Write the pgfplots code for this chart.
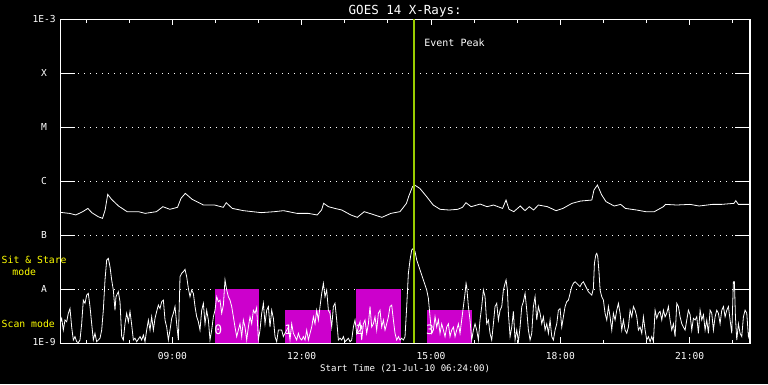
\documentclass[border=0pt]{standalone}
\usepackage{fontspec}
\setmainfont{DejaVu Sans Mono}
\usepackage{pgfplots}
\pgfplotsset{compat=1.18}
\definecolor{evgreen}{RGB}{153,204,0}
\definecolor{modemag}{RGB}{204,0,204}
\definecolor{labyel}{RGB}{255,255,0}
\begin{document}
\begin{tikzpicture}
\fill[black] (0,0) rectangle (768pt,384pt);
\useasboundingbox (0,0) rectangle (768pt,384pt);
\begin{axis}[
  at={(60.3pt,40.7pt)}, anchor=south west,
  scale only axis, width=689.7pt, height=324pt,
  xmin=6.4, xmax=22.4,
  ymode=log, ymin=1e-9, ymax=1e-3,
  axis line style={white, line width=1.2pt},
  tick align=inside,
  xtick={9,12,15,18,21},
  xticklabels={09:00,12:00,15:00,18:00,21:00},
  minor xtick={7,8,10,11,13,14,16,17,19,20,22},
  major tick length=6pt, minor tick length=3.5pt,
  xtick style={white, line width=1pt},
  ytick={1e-9,1e-8,1e-7,1e-6,1e-5,1e-4,1e-3},
  yticklabels={\raisebox{2.5pt}{1E-9},A,B,C,M,X,\raisebox{-3.5pt}{1E-3}},
  yminorticks=false,
  ytick style={draw=none},
  ymajorgrids,
  major grid style={white, line width=1pt, dash pattern=on 1pt off 5pt},
  ticklabel style={text=white, font=\fontsize{9.6}{10}\selectfont},
  xticklabel style={anchor=base, yshift=-15.7pt},
  yticklabel style={anchor=east, text width=26pt, align=center, inner sep=0pt, xshift=-3pt},
  every axis title shift=0pt,
  title={GOES 14 X-Rays:},
  title style={text=white, font=\fontsize{12.5}{13}\selectfont, at={(axis description cs:0.5,1)}, anchor=base, yshift=5pt},
  xlabel={Start Time (21-Jul-10 06:24:00)},
  xlabel style={text=white, font=\fontsize{9.1}{10}\selectfont, at={(axis description cs:0.5,0)}, anchor=base, yshift=-28.4pt},
]
% observing mode rectangles
\addplot[fill=modemag, draw=none] coordinates {(9.989,1e-9) (9.989,1e-8) (11.017,1e-8) (11.017,1e-9)} --cycle;
\addplot[fill=modemag, draw=none] coordinates {(11.614,1e-9) (11.614,4.15e-9) (12.674,4.15e-9) (12.674,1e-9)} --cycle;
\addplot[fill=modemag, draw=none] coordinates {(13.261,1e-9) (13.261,1e-8) (14.305,1e-8) (14.305,1e-9)} --cycle;
\addplot[fill=modemag, draw=none] coordinates {(14.909,1e-9) (14.909,4.15e-9) (15.945,4.15e-9) (15.945,1e-9)} --cycle;
% long channel
\addplot[white, line width=0.8pt, sharp plot] coordinates {
(6.40,2.66e-7) (6.61,2.55e-7) (6.76,2.38e-7) (6.92,2.74e-7) (7.04,3.15e-7) (7.13,2.63e-7) (7.28,2.21e-7) (7.38,2.06e-7) (7.44,2.94e-7) (7.50,5.73e-7) (7.59,4.63e-7) (7.75,3.49e-7) (7.95,2.74e-7) (8.21,2.74e-7) (8.37,2.55e-7) (8.63,2.74e-7) (8.78,3.39e-7) (8.94,3.03e-7) (9.12,3.30e-7) (9.20,4.83e-7) (9.30,5.98e-7) (9.46,4.63e-7) (9.72,3.64e-7) (9.98,3.64e-7) (10.18,3.30e-7) (10.25,4.02e-7) (10.39,3.15e-7) (10.65,2.86e-7) (11.06,2.63e-7) (11.37,2.74e-7) (11.58,2.86e-7) (11.89,2.55e-7) (12.15,2.55e-7) (12.36,2.38e-7) (12.46,2.94e-7) (12.51,3.91e-7) (12.62,3.39e-7) (12.77,3.15e-7) (12.93,2.94e-7) (13.14,2.38e-7) (13.29,2.15e-7) (13.45,2.74e-7) (13.65,2.44e-7) (13.86,2.15e-7) (14.07,2.55e-7) (14.28,2.74e-7) (14.36,3.30e-7) (14.43,3.91e-7) (14.48,5.19e-7) (14.57,7.94e-7) (14.62,8.53e-7) (14.74,7.40e-7) (14.90,5.19e-7) (15.05,3.64e-7) (15.21,3.03e-7) (15.42,2.94e-7) (15.62,3.03e-7) (15.73,3.30e-7) (15.81,4.02e-7) (15.93,3.39e-7) (16.14,3.79e-7) (16.30,3.39e-7) (16.45,3.64e-7) (16.66,3.15e-7) (16.74,4.50e-7) (16.81,3.03e-7) (16.92,2.74e-7) (17.07,3.49e-7) (17.18,2.86e-7) (17.28,3.39e-7) (17.38,2.94e-7) (17.49,3.64e-7) (17.70,3.39e-7) (17.90,2.86e-7) (18.06,3.15e-7) (18.27,3.91e-7) (18.47,4.31e-7) (18.73,4.50e-7) (18.78,6.90e-7) (18.86,8.53e-7) (18.96,5.57e-7) (19.06,4.20e-7) (19.25,3.49e-7) (19.40,3.74e-7) (19.51,3.15e-7) (19.77,2.94e-7) (19.98,2.74e-7) (20.18,2.74e-7) (20.39,3.39e-7) (20.44,3.74e-7) (20.70,3.64e-7) (21.01,3.74e-7) (21.22,3.49e-7) (21.53,3.74e-7) (21.74,3.74e-7) (22.03,3.91e-7) (22.07,4.38e-7) (22.13,3.74e-7) (22.40,3.74e-7)
};
% short channel
\addplot[white, line width=0.8pt, sharp plot] coordinates {
(6.393,2.3e-9) (6.432,2.9e-9) (6.470,1.76e-9) (6.509,2.7e-9) (6.548,2.5e-9) (6.586,3.6e-9) (6.625,4.4e-9) (6.664,2.0e-9) (6.702,1.15e-9) (6.741,1.33e-9) (6.780,1.07e-9) (6.818,1.03e-9) (6.857,1.15e-9) (6.896,2.3e-9) (6.934,6.3e-9) (6.973,5.5e-9) (7.012,7.8e-9) (7.050,8.4e-9) (7.089,4.8e-9) (7.128,2.3e-9) (7.166,1.15e-9) (7.205,1.53e-9) (7.244,1.07e-9) (7.321,1.24e-9) (7.360,1.76e-9) (7.398,4.1e-9) (7.437,1.49e-8) (7.476,3.48e-8) (7.514,3.74e-8) (7.553,2.62e-8) (7.592,1.49e-8) (7.630,9.7e-9) (7.669,4.1e-9) (7.692,7.3e-9) (7.746,9.0e-9) (7.785,5.9e-9) (7.824,1.33e-9) (7.862,1.15e-9) (7.901,2.3e-9) (7.940,3.6e-9) (7.979,2.5e-9) (8.017,3.9e-9) (8.056,2.2e-9) (8.095,1.15e-9) (8.133,1.24e-9) (8.172,1.07e-9) (8.249,1.33e-9) (8.288,1.15e-9) (8.327,1.42e-9) (8.365,1.07e-9) (8.404,1.76e-9) (8.443,2.7e-9) (8.481,1.76e-9) (8.520,3.1e-9) (8.559,1.76e-9) (8.597,2.9e-9) (8.636,3.9e-9) (8.675,5.1e-9) (8.713,4.4e-9) (8.752,5.9e-9) (8.791,6.3e-9) (8.829,2.7e-9) (8.868,2.0e-9) (8.907,1.15e-9) (8.945,1.76e-9) (8.984,2.9e-9) (9.023,3.6e-9) (9.061,4.8e-9) (9.100,2.3e-9) (9.139,1.15e-9) (9.177,1.71e-8) (9.216,1.98e-8) (9.255,2.12e-8) (9.293,2.34e-8) (9.332,1.71e-8) (9.371,1.04e-8) (9.409,7.3e-9) (9.448,9.7e-9) (9.487,8.4e-9) (9.525,4.8e-9) (9.564,3.1e-9) (9.603,2.5e-9) (9.641,1.76e-9) (9.680,4.1e-9) (9.719,5.5e-9) (9.757,2.3e-9) (9.796,4.1e-9) (9.835,2.7e-9) (9.873,1.15e-9) (9.912,1.76e-9) (9.951,3.1e-9) (9.989,4.1e-9) (10.028,7.3e-9) (10.067,5.9e-9) (10.105,6.3e-9) (10.144,3.6e-9) (10.183,5.1e-9) (10.221,1.49e-8) (10.260,9.7e-9) (10.299,7.3e-9) (10.337,6.3e-9) (10.376,4.8e-9) (10.415,3.1e-9) (10.453,2.0e-9) (10.492,1.33e-9) (10.531,1.76e-9) (10.569,2.3e-9) (10.608,1.33e-9) (10.647,2.7e-9) (10.685,2.0e-9) (10.724,1.15e-9) (10.763,2.0e-9) (10.801,3.1e-9) (10.840,2.3e-9) (10.879,4.1e-9) (10.917,3.6e-9) (10.956,4.6e-9) (10.995,1.15e-9) (11.033,1.76e-9) (11.072,3.6e-9) (11.111,5.5e-9) (11.149,2.3e-9) (11.188,4.1e-9) (11.227,4.8e-9) (11.265,2.0e-9) (11.304,4.1e-9) (11.343,2.9e-9) (11.381,1.33e-9) (11.420,1.07e-9) (11.459,1.76e-9)
(11.536,1.76e-9) (11.574,1.33e-9) (11.652,1.76e-9) (11.691,2.0e-9) (11.729,1.15e-9) (11.768,2.3e-9) (11.807,1.53e-9) (11.845,1.33e-9) (11.884,1.15e-9) (11.923,1.53e-9) (11.961,1.24e-9) (12.000,1.15e-9) (12.039,1.33e-9) (12.077,1.15e-9) (12.116,1.76e-9) (12.155,1.15e-9) (12.193,1.53e-9) (12.232,2.0e-9) (12.271,3.1e-9) (12.309,2.3e-9) (12.348,4.1e-9) (12.387,2.7e-9) (12.425,4.8e-9) (12.464,8.4e-9) (12.503,1.29e-8) (12.541,7.3e-9) (12.580,9.7e-9) (12.619,4.1e-9) (12.657,3.6e-9) (12.696,2.0e-9) (12.735,4.8e-9) (12.773,5.5e-9) (12.812,2.7e-9) (12.851,1.15e-9) (12.889,1.24e-9) (12.928,1.15e-9) (12.967,1.33e-9) (13.005,1.07e-9) (13.044,1.15e-9) (13.083,1.24e-9) (13.121,1.07e-9) (13.160,1.15e-9) (13.199,2.0e-9) (13.237,2.7e-9) (13.276,1.53e-9) (13.315,2.0e-9) (13.353,2.5e-9) (13.392,1.15e-9) (13.431,2.3e-9) (13.469,2.7e-9) (13.508,1.53e-9) (13.547,2.3e-9) (13.585,4.8e-9) (13.624,2.0e-9) (13.663,2.3e-9) (13.701,3.1e-9) (13.740,1.76e-9) (13.779,3.6e-9) (13.817,4.1e-9) (13.856,2.0e-9) (13.895,2.7e-9) (13.933,1.76e-9) (13.972,2.3e-9) (14.011,3.1e-9) (14.049,4.8e-9) (14.088,5.1e-9) (14.127,2.7e-9) (14.165,1.53e-9) (14.204,1.15e-9) (14.243,1.33e-9) (14.281,1.15e-9) (14.320,1.24e-9) (14.359,1.15e-9) (14.397,1.33e-9) (14.436,4.8e-9) (14.475,1.98e-8) (14.513,3.49e-8) (14.552,5.35e-8) (14.591,5.74e-8) (14.630,4.98e-8) (14.668,3.49e-8) (14.745,2.28e-8) (14.823,1.49e-8) (14.900,9.7e-9) (14.939,6.8e-9) (14.977,3.1e-9) (15.016,1.53e-9) (15.055,1.76e-9) (15.093,3.1e-9) (15.132,2.0e-9) (15.171,2.7e-9) (15.209,1.53e-9) (15.248,2.3e-9) (15.287,1.76e-9) (15.325,1.33e-9) (15.364,2.0e-9) (15.403,2.3e-9) (15.441,1.33e-9) (15.480,1.76e-9) (15.519,2.0e-9) (15.557,1.33e-9) (15.596,1.76e-9) (15.635,2.3e-9) (15.673,1.53e-9) (15.712,2.7e-9) (15.751,4.8e-9) (15.789,8.4e-9) (15.813,1.29e-8) (15.828,1.12e-8) (15.867,4.8e-9) (15.905,2.7e-9) (15.944,1.15e-9) (15.983,1.76e-9) (16.021,2.3e-9) (16.060,1.76e-9) (16.099,1.15e-9) (16.137,2.7e-9) (16.176,4.8e-9) (16.215,9.7e-9) (16.253,7.3e-9) (16.292,2.3e-9) (16.331,2.7e-9) (16.369,1.53e-9) (16.408,1.15e-9) (16.447,2.3e-9) (16.485,4.8e-9) (16.524,5.5e-9) (16.563,2.7e-9)
(16.602,4.1e-9) (16.641,4.8e-9) (16.679,9.7e-9) (16.718,1.29e-8) (16.741,1.49e-8) (16.772,9.7e-9) (16.795,3.6e-9) (16.834,1.33e-9) (16.873,2.0e-9) (16.911,3.9e-9) (16.950,1.15e-9) (16.989,1.76e-9) (17.027,1.07e-9) (17.066,2.0e-9) (17.105,4.8e-9) (17.143,5.9e-9) (17.182,8.4e-9) (17.221,4.1e-9) (17.259,1.76e-9) (17.298,1.15e-9) (17.337,1.53e-9) (17.375,4.8e-9) (17.414,7.3e-9) (17.453,2.7e-9) (17.491,4.8e-9) (17.530,3.6e-9) (17.569,2.3e-9) (17.607,3.1e-9) (17.646,1.76e-9) (17.685,2.3e-9) (17.723,1.53e-9) (17.762,2.7e-9) (17.801,1.33e-9) (17.839,1.15e-9) (17.878,1.76e-9) (17.917,2.3e-9) (17.955,4.1e-9) (17.994,4.4e-9) (18.033,2.0e-9) (18.071,3.1e-9) (18.110,4.8e-9) (18.149,5.9e-9) (18.187,6.3e-9) (18.226,8.4e-9) (18.265,1.12e-8) (18.303,1.29e-8) (18.342,1.38e-8) (18.381,1.29e-8) (18.419,1.20e-8) (18.458,1.12e-8) (18.497,1.29e-8) (18.535,1.38e-8) (18.574,1.20e-8) (18.613,1.04e-8) (18.651,9.0e-9) (18.690,8.4e-9) (18.729,7.8e-9) (18.767,1.04e-8) (18.791,3.03e-8) (18.822,4.31e-8) (18.845,4.63e-8) (18.868,4.02e-8) (18.899,1.98e-8) (18.922,9.7e-9) (18.961,7.3e-9) (18.999,6.3e-9) (19.038,3.6e-9) (19.077,2.7e-9) (19.115,4.8e-9) (19.154,3.1e-9) (19.193,1.76e-9) (19.231,3.6e-9) (19.270,2.7e-9) (19.309,4.1e-9) (19.347,5.5e-9) (19.386,3.6e-9) (19.425,1.76e-9) (19.463,2.7e-9) (19.502,1.76e-9) (19.541,1.53e-9) (19.579,2.0e-9) (19.618,4.1e-9) (19.657,3.1e-9) (19.695,4.8e-9) (19.734,4.1e-9) (19.773,3.1e-9) (19.811,1.76e-9) (19.850,2.0e-9) (19.889,1.53e-9) (19.927,3.1e-9) (19.966,1.76e-9) (20.005,1.15e-9) (20.043,1.33e-9) (20.082,1.07e-9) (20.121,1.33e-9) (20.159,1.07e-9) (20.198,4.1e-9) (20.237,2.9e-9) (20.275,3.6e-9) (20.314,3.9e-9) (20.353,2.7e-9) (20.391,4.1e-9) (20.430,3.1e-9) (20.469,3.6e-9) (20.507,4.8e-9) (20.546,2.7e-9) (20.585,1.76e-9) (20.623,2.3e-9) (20.662,1.33e-9) (20.701,5.5e-9) (20.739,4.8e-9) (20.778,3.1e-9) (20.817,2.3e-9) (20.855,2.0e-9) (20.894,1.76e-9) (20.933,2.7e-9) (20.971,4.1e-9) (21.010,3.4e-9) (21.049,1.76e-9) (21.087,2.9e-9) (21.126,2.7e-9) (21.165,3.1e-9) (21.203,1.53e-9) (21.242,4.1e-9) (21.281,2.7e-9) (21.319,3.4e-9) (21.358,1.76e-9) (21.397,2.7e-9) (21.435,1.53e-9) (21.474,4.1e-9) (21.513,3.6e-9) (21.551,1.76e-9) (21.590,3.1e-9) (21.629,4.1e-9) (21.667,3.6e-9) (21.706,2.3e-9) (21.745,4.1e-9) (21.783,4.8e-9) (21.822,3.1e-9) (21.861,4.1e-9) (21.899,4.8e-9) (21.938,2.7e-9) (21.977,1.53e-9) (22.015,1.38e-8) (22.038,1.38e-8) (22.062,3.1e-9) (22.093,1.15e-9) (22.131,2.3e-9) (22.170,1.53e-9) (22.209,1.33e-9) (22.247,3.1e-9) (22.286,4.1e-9) (22.325,3.6e-9) (22.363,1.33e-9) (22.400,1.76e-9)
};
% event peak line
\addplot[evgreen, line width=2.2pt] coordinates {(14.61,1e-9) (14.61,1e-3)};
% mode numbers
\node[text=white, font=\fontsize{13}{13}\selectfont, inner sep=0pt] at (axis cs:10.065,1.8e-9) {0};
\node[text=white, font=\fontsize{13}{13}\selectfont, inner sep=0pt] at (axis cs:11.69,1.8e-9) {1};
\node[text=white, font=\fontsize{13}{13}\selectfont, inner sep=0pt] at (axis cs:13.35,1.8e-9) {2};
\node[text=white, font=\fontsize{13}{13}\selectfont, inner sep=0pt] at (axis cs:14.98,1.8e-9) {3};
\node[anchor=west, text=white, font=\fontsize{10}{11}\selectfont, inner sep=0pt] at (axis cs:14.61,3.7e-4) [xshift=10pt] {Event Peak};
% y tick segments
\draw[white, line width=1.2pt] (axis cs:6.4,1e-8) -- ++(15pt,0pt);
\draw[white, line width=1.2pt] (axis cs:6.4,1e-7) -- ++(15pt,0pt);
\draw[white, line width=1.2pt] (axis cs:6.4,1e-6) -- ++(15pt,0pt);
\draw[white, line width=1.2pt] (axis cs:6.4,1e-5) -- ++(15pt,0pt);
\draw[white, line width=1.2pt] (axis cs:6.4,1e-4) -- ++(15pt,0pt);
\draw[white, line width=1.2pt] (axis cs:22.4,1e-8) -- ++(-15pt,0pt);
\draw[white, line width=1.2pt] (axis cs:22.4,1e-7) -- ++(-15pt,0pt);
\draw[white, line width=1.2pt] (axis cs:22.4,1e-6) -- ++(-15pt,0pt);
\draw[white, line width=1.2pt] (axis cs:22.4,1e-5) -- ++(-15pt,0pt);
\draw[white, line width=1.2pt] (axis cs:22.4,1e-4) -- ++(-15pt,0pt);
\end{axis}
\node[anchor=base, text=labyel, font=\fontsize{9.8}{10}\selectfont, inner sep=0pt] at (34.2pt,121pt) {Sit \& Stare};
\node[anchor=base, text=labyel, font=\fontsize{9.8}{10}\selectfont, inner sep=0pt] at (24.3pt,109pt) {mode};
\node[anchor=base, text=labyel, font=\fontsize{9.8}{10}\selectfont, inner sep=0pt] at (28.3pt,56.7pt) {Scan mode};
\end{tikzpicture}
\end{document}
